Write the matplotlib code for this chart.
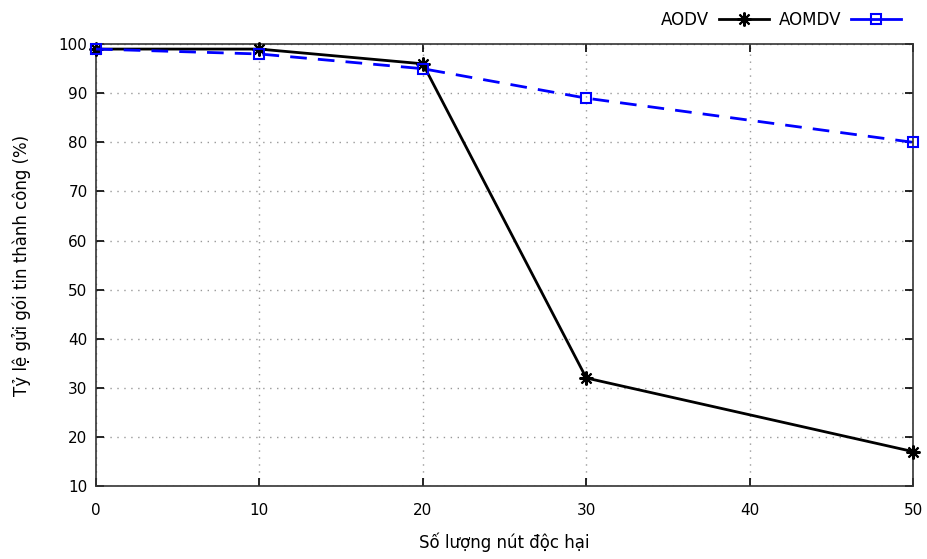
import matplotlib.pyplot as plt

# Số lượng nút độc hại và tỷ lệ gửi gói tin thành công (%)
nodes = [0, 10, 20, 30, 50]
aodv = [99, 99, 96, 32, 17]
aomdv = [99, 98, 95, 89, 80]

x_ticks = [0, 10, 20, 30, 40, 50]
y_ticks = [10, 20, 30, 40, 50, 60, 70, 80, 90, 100]

plt.rcParams['font.family'] = ['DejaVu Sans']

fig = plt.figure(figsize=(9.28, 5.59), dpi=100)
ax = fig.add_axes([0.1034, 0.1306, 0.8806, 0.7904])

ax.plot(nodes, aodv, color='black', linewidth=2, marker=(8, 2, 0),
        markersize=10, markeredgewidth=1.5, label='AODV', clip_on=False, zorder=3)
ax.plot(nodes, aomdv, color='#0000ff', linewidth=2, linestyle=(0, (6, 4)),
        marker='s', markersize=7, markerfacecolor='none', markeredgewidth=1.5,
        label='AOMDV', clip_on=False, zorder=4)

ax.set_xlim(0, 50)
ax.set_ylim(10, 100)
ax.set_xticks(x_ticks)
ax.set_yticks(y_ticks)
ax.tick_params(direction='in', top=True, right=True, length=6, width=1.2,
               labelsize=11, pad=6, colors='black')
ax.tick_params(axis='x', pad=12)
ax.grid(True, linestyle=(0, (1, 4)), color='#999999', linewidth=1)
for s in ax.spines.values():
    s.set_linewidth(1.2)
    s.set_color('#333333')

ax.set_xlabel('Số lượng nút độc hại', fontsize=12, labelpad=11)
ax.set_ylabel('Tỷ lệ gửi gói tin thành công (%)', fontsize=12, labelpad=20)

leg = ax.legend(loc='lower right', bbox_to_anchor=(1.0, 1.008), ncol=2, frameon=False,
                markerfirst=False, handlelength=3.0, columnspacing=0.6,
                handletextpad=0.6, fontsize=12, borderaxespad=0.3)
# đường mẫu AOMDV trong chú thích là nét liền
leg.get_lines()[1].set_linestyle('-')

plt.savefig('out.png', dpi=100)
